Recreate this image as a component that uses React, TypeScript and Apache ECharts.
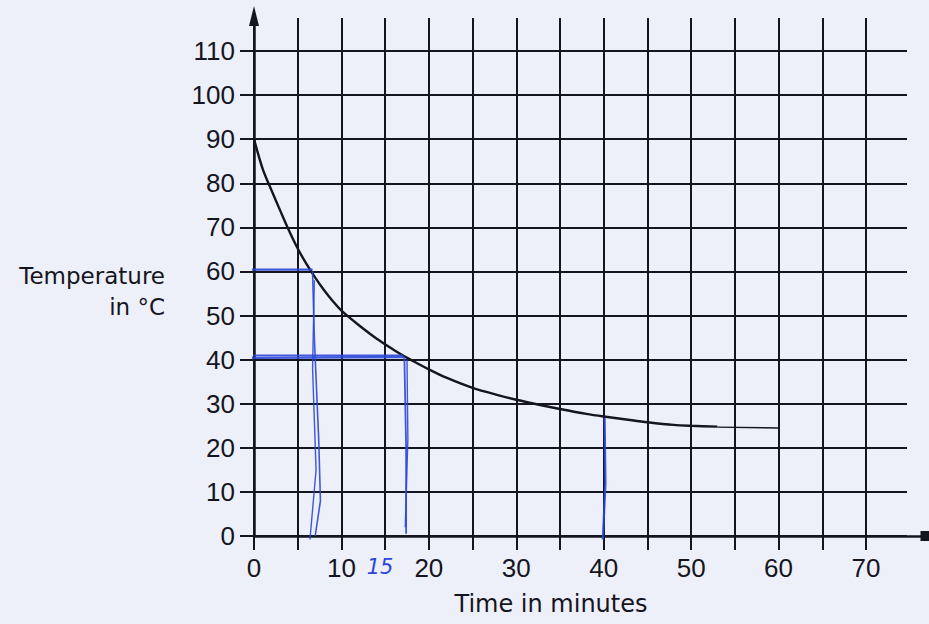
import React, { useEffect, useRef } from "react";
import * as echarts from "echarts";

// ---- data ----
const timeMinutes = [0, 1, 2, 3, 4, 5, 6, 7, 8, 9, 10, 12, 14, 16, 17, 18, 20, 22, 25, 28, 30, 33, 35, 38, 40, 43, 45, 48, 50, 53];
const temperatureC = [90, 83.2, 78.4, 73.8, 69.3, 65.2, 61.7, 58.6, 55.8, 53.3, 51.1, 47.8, 44.8, 42.2, 41.0, 39.9, 37.8, 35.9, 33.6, 31.9, 30.9, 29.6, 28.8, 27.7, 27.1, 26.3, 25.8, 25.2, 25.0, 24.8];
const tailTime = [53, 60];
const tailTemp = [24.7, 24.5];

const xTickLabels = [0, 10, 20, 30, 40, 50, 60, 70];
const yTickLabels = [0, 10, 20, 30, 40, 50, 60, 70, 80, 90, 100, 110];

// hand-drawn blue reading lines [time, temperature]
const read60Across = [[-0.7, 60.4], [6.7, 60.4]];
const read60DownA = [[6.7, 60], [6.9, 45], [7.4, 22], [7.6, 8], [7.0, 0]];
const read60DownB = [[6.9, 58], [6.7, 38], [7.1, 15], [6.4, -0.8]];
const read40AcrossA = [[-1.0, 40.4], [17.2, 40.6]];
const read40AcrossB = [[-0.5, 41.0], [17.0, 41.0]];
const read40DownA = [[17.2, 40.5], [17.4, 20], [17.4, 0.5]];
const read40DownB = [[17.5, 40], [17.6, 22], [17.3, 2]];
const read40MinDown = [[40.1, 26.8], [40.2, 12], [39.9, -0.8]];
const handNote = "15";

const INK = "#15151f";
const BLUE = "#2a47d8";
const LABEL_FONT = "'Liberation Sans', Arial, sans-serif";
const TITLE_FONT = "'DejaVu Sans', Verdana, sans-serif";

export default function App() {
  const ref = useRef<HTMLDivElement>(null);

  useEffect(() => {
    if (!ref.current) return;
    const chart = echarts.init(ref.current, undefined, { renderer: "svg" });

    const x0 = 254;
    const x70 = 866;
    const pxPerMin = (x70 - x0) / 70;
    const y0 = 536;
    const pxPerDeg = (536 - 51) / 110;
    const mainRight = 4;
    const mainTop = 16;
    const mainXMax = (929 - mainRight - x0) / pxPerMin;
    const mainYMax = (y0 - mainTop) / pxPerDeg;

    const blue = (data: number[][], width = 2) => ({
      type: "line",
      xAxisIndex: 2,
      yAxisIndex: 2,
      data,
      showSymbol: false,
      clip: false,
      silent: true,
      z: 5,
      lineStyle: { color: BLUE, width, opacity: 0.9 },
    });

    chart.setOption({
      animation: false,
      backgroundColor: "#eef0f9",
      grid: [
        { left: 240, right: 22, top: 51, bottom: 624 - y0 },
        { left: x0, right: 929 - x70, top: 18, bottom: 74 },
        { left: x0, right: mainRight, top: mainTop, bottom: 624 - y0 },
      ],
      xAxis: [
        { gridIndex: 0, type: "value", min: 0, max: 1, show: false },
        {
          gridIndex: 1,
          type: "value",
          min: 0,
          max: 70,
          interval: 5,
          axisLine: { show: false },
          axisTick: { show: false },
          splitLine: { show: true, lineStyle: { color: INK, width: 2 } },
          axisLabel: {
            margin: 5,
            fontSize: 26,
            color: INK,
            fontFamily: LABEL_FONT,
            formatter: (v: number) => (xTickLabels.includes(v) ? String(v) : ""),
          },
        },
        {
          gridIndex: 2,
          type: "value",
          min: 0,
          max: mainXMax,
          axisLine: {
            show: true,
            symbol: ["none", "rect"],
            symbolSize: [10, 9],
            lineStyle: { color: INK, width: 2.5 },
          },
          axisTick: { show: false },
          axisLabel: { show: false },
          splitLine: { show: false },
        },
      ],
      yAxis: [
        {
          gridIndex: 0,
          type: "value",
          min: 0,
          max: 110,
          interval: 10,
          axisLine: { show: false },
          axisTick: { show: false },
          splitLine: { show: true, lineStyle: { color: INK, width: 2 } },
          axisLabel: {
            margin: 5,
            fontSize: 26,
            color: INK,
            fontFamily: LABEL_FONT,
            formatter: (v: number) => (yTickLabels.includes(v) ? String(v) : ""),
          },
        },
        { gridIndex: 1, type: "value", min: 0, max: 1, show: false },
        {
          gridIndex: 2,
          type: "value",
          min: 0,
          max: mainYMax,
          axisLine: {
            show: true,
            symbol: ["none", "triangle"],
            symbolSize: [10, 20],
            lineStyle: { color: INK, width: 2.5 },
          },
          axisTick: { show: false },
          axisLabel: { show: false },
          splitLine: { show: false },
        },
      ],
      series: [
        {
          type: "line",
          xAxisIndex: 2,
          yAxisIndex: 2,
          data: timeMinutes.map((t, i) => [t, temperatureC[i]]),
          showSymbol: false,
          smooth: 0.3,
          silent: true,
          z: 4,
          lineStyle: { color: INK, width: 2.4 },
        },
        {
          type: "line",
          xAxisIndex: 2,
          yAxisIndex: 2,
          data: tailTime.map((t, i) => [t, tailTemp[i]]),
          showSymbol: false,
          silent: true,
          z: 4,
          lineStyle: { color: INK, width: 1.3 },
        },
        blue(read60Across, 2.2),
        blue(read60DownA, 1.6),
        blue(read60DownB, 1.4),
        blue(read40AcrossA, 2.6),
        blue(read40AcrossB, 1.6),
        blue(read40DownA, 1.8),
        blue(read40DownB, 1.4),
        blue(read40MinDown, 2.2),
      ],
      graphic: [
        {
          type: "text",
          x: 165,
          y: 291,
          style: {
            text: "Temperature\nin °C",
            align: "right",
            verticalAlign: "middle",
            fontSize: 23,
            lineHeight: 31,
            fontFamily: TITLE_FONT,
            fill: INK,
          },
        },
        {
          type: "text",
          x: 551,
          y: 604,
          style: {
            text: "Time in minutes",
            align: "center",
            verticalAlign: "middle",
            fontSize: 24,
            fontFamily: TITLE_FONT,
            fill: INK,
          },
        },
        {
          type: "text",
          x: 380,
          y: 567,
          style: {
            text: handNote,
            align: "center",
            verticalAlign: "middle",
            fontSize: 21,
            fontStyle: "italic",
            fontFamily: "'DejaVu Sans', sans-serif",
            fill: BLUE,
          },
        },
      ],
    });

    return () => chart.dispose();
  }, []);

  return (
    <div
      ref={ref}
      style={{ position: "fixed", left: 0, top: 0, width: 929, height: 624 }}
    />
  );
}
